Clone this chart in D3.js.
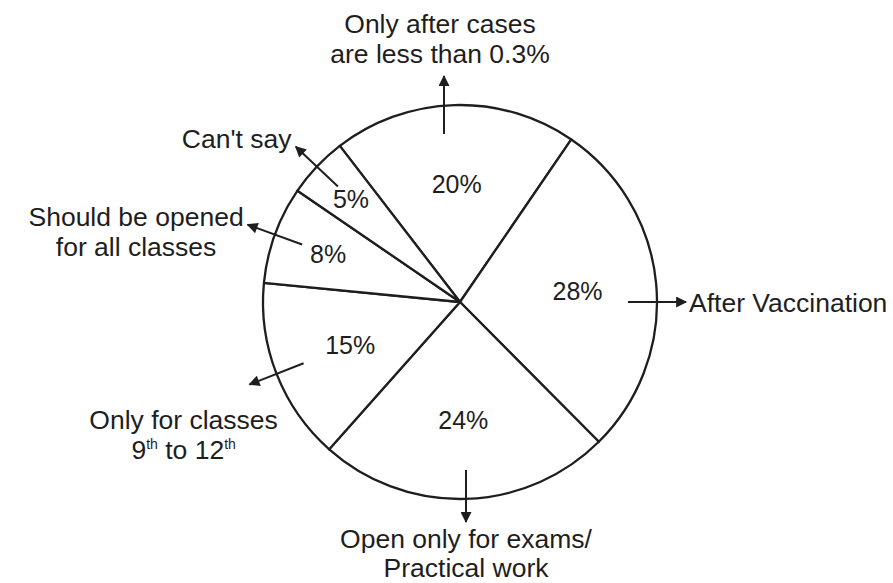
<!DOCTYPE html>
<html>
<head>
<meta charset="utf-8">
<script src="https://cdn.jsdelivr.net/npm/d3@7"></script>
<style>
  body { margin: 0; background: #fff; }
  svg { display: block; }
  text { font-family: "Liberation Sans", Arial, sans-serif; fill: #1e1e1e; }
</style>
</head>
<body>
<svg id="chart" width="893" height="583"></svg>
<script>
var categories = ["Only after cases are less than 0.3%", "After Vaccination",
    "Open only for exams/ Practical work", "Only for classes 9th to 12th",
    "Should be opened for all classes", "Can't say"];
var values = [20, 28, 24, 15, 8, 5];
var calloutLines = [
    ["Only after cases", "are less than 0.3%"],
    ["After Vaccination"],
    ["Open only for exams/", "Practical work"],
    ["Only for classes", "9th to 12th"],
    ["Should be opened", "for all classes"],
    ["Can't say"]
];

var width = 893, height = 583;
var cx = 460, cy = 302, radius = 197;
var lineGap = 30;
var startAngle = -37.6 * Math.PI / 180;

var svg = d3.select("#chart");
var g = svg.append("g").attr("transform", "translate(" + cx + "," + cy + ")");

var defs = svg.append("defs");
defs.append("marker")
    .attr("id", "arrowHead")
    .attr("viewBox", "0 0 10 10")
    .attr("refX", 9).attr("refY", 5)
    .attr("markerUnits", "userSpaceOnUse")
    .attr("markerWidth", 12).attr("markerHeight", 11)
    .attr("orient", "auto")
  .append("path")
    .attr("d", "M0,0L10,5L0,10Z")
    .attr("fill", "#1e1e1e");

var pie = d3.pie().sort(null).value(function (d) { return d; })
    .startAngle(startAngle).endAngle(startAngle + 2 * Math.PI);
var arcs = pie(values);
var arc = d3.arc().innerRadius(0).outerRadius(radius);

g.selectAll("path.slice")
    .data(arcs)
  .enter().append("path")
    .attr("class", "slice")
    .attr("d", arc)
    .attr("fill", "#fff")
    .attr("stroke", "#1e1e1e")
    .attr("stroke-width", 2.3)
    .attr("stroke-linejoin", "round");

// percent labels, small slices sit further out
var labelR = d3.scaleLinear().domain([5, 15]).range([150, 118]).clamp(true);
g.selectAll("text.pct")
    .data(arcs)
  .enter().append("text")
    .attr("class", "pct")
    .attr("x", function (d) { return labelR(d.value) * Math.sin(midAngle(d)); })
    .attr("y", function (d) { return -labelR(d.value) * Math.cos(midAngle(d)); })
    .attr("dy", "0.35em")
    .attr("text-anchor", "middle")
    .style("font-size", "25px")
    .text(function (d) { return d.value + "%"; });

function midAngle(d) { return (d.startAngle + d.endAngle) / 2; }

function calloutAngle(d) {
    var deg = midAngle(d) * 180 / Math.PI;
    deg = ((deg % 360) + 360) % 360;
    var snap = [0, 90, 180, 270, 360].filter(function (a) { return Math.abs(deg - a) < 10; });
    return snap.length ? snap[0] : deg;
}

function polar(deg, r) {
    var a = deg * Math.PI / 180;
    return [r * Math.sin(a), -r * Math.cos(a)];
}

// write a line, "th" after a number becomes superscript
function writeLine(textEl, line) {
    var parts = line.split(/(?<=\d)(th)/);
    parts.forEach(function (p, i) {
        if (!p) return;
        var sup = (i % 2 === 1);
        var t = textEl.append("tspan").text(p);
        if (sup) {
            t.style("font-size", "14px").attr("dy", -10);
        } else if (i > 0 && parts[i - 1] === "th") {
            t.attr("dy", 10);
        }
    });
}

var callouts = g.selectAll("g.callout")
    .data(arcs)
  .enter().append("g")
    .attr("class", "callout");

callouts.each(function (d, i) {
    var el = d3.select(this);
    var deg = calloutAngle(d);
    var p0 = polar(deg, 168), p1 = polar(deg, 226);
    if (deg === 0 || deg === 360) { p0[0] -= 16; p1[0] -= 16; }
    if (deg === 180) { p0[0] += 6; p1[0] += 6; p1[1] -= 6; }
    el.append("line")
        .attr("x1", p0[0]).attr("y1", p0[1])
        .attr("x2", p1[0]).attr("y2", p1[1])
        .attr("stroke", "#1e1e1e")
        .attr("stroke-width", 2)
        .attr("marker-end", "url(#arrowHead)");

    var lines = calloutLines[i];
    var txt = el.append("g").style("font-size", "26.5px");
    var anchor = "middle", x = p1[0], y0;
    var gap = lineGap;
    if (deg === 0 || deg === 360) {
        y0 = p1[1] - 13 - (lines.length - 1) * lineGap;
        x = p1[0] - 4;
    } else if (deg === 90) {
        anchor = "start";
        x = p1[0] + 3;
        y0 = p1[1] + 9.5 - (lines.length - 1) * lineGap / 2;
    } else if (deg === 180) {
        y0 = p1[1] + 26;
        gap = 28.5;
    } else if (deg > 180 && deg < 270) {
        x = p1[0] - 66;
        y0 = p1[1] + 45;
    } else {
        y0 = p1[1] + 1;
    }
    lines.forEach(function (line, k) {
        var t = txt.append("text")
            .attr("x", x)
            .attr("y", y0 + k * gap)
            .attr("text-anchor", anchor);
        writeLine(t, line);
    });
    if (deg > 270 && deg < 360) {
        // shift the block so its right edge sits left of the arrow tip
        var w = txt.node().getBBox().width;
        txt.attr("transform", "translate(" + (-w / 2 - 4) + ",0)");
    }
});
</script>
</body>
</html>
